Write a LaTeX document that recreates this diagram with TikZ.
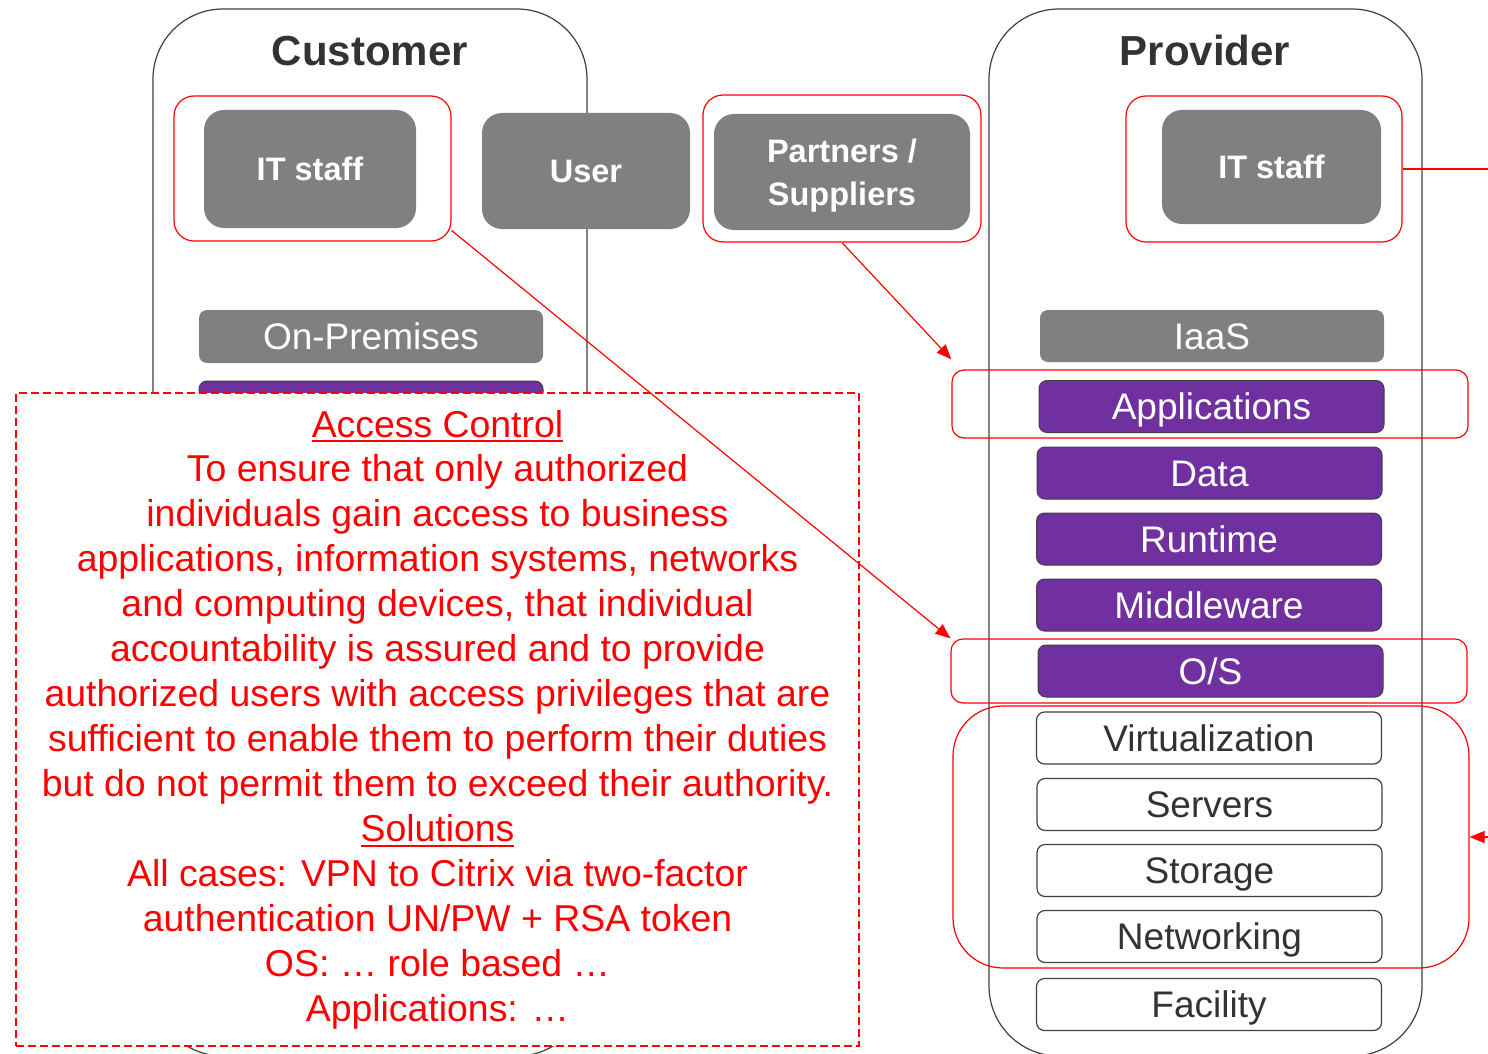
\documentclass[tikz,border=0pt]{standalone}
\usepackage{fontspec}
\setmainfont{Liberation Sans}
\usetikzlibrary{arrows.meta}

\definecolor{boxgray}{RGB}{128,128,128}
\definecolor{stackpurple}{RGB}{112,48,160}
\definecolor{inkgray}{RGB}{51,51,51}
\definecolor{edgegray}{RGB}{64,64,64}
\definecolor{alertred}{RGB}{255,0,0}

% underline with a thicker rule, set a little below the baseline
\newcommand\ulx[1]{\setbox0=\hbox{#1}\leavevmode\rlap{\rule[-5pt]{\wd0}{2pt}}\box0}

\begin{document}
\begin{tikzpicture}[x=1pt,y=-1pt,
  container/.style={draw=edgegray, line width=1.2pt, rounded corners=70pt,
    inner sep=0pt},
  title/.style={text=inkgray, inner sep=0pt,
    font=\fontsize{42}{50}\selectfont\bfseries},
  actor/.style={fill=boxgray, rounded corners=20pt, text=white, align=center,
    inner sep=0pt, font=\fontsize{32.5}{43.5}\selectfont\bfseries},
  actortext/.style={text=white, align=center, inner sep=0pt,
    font=\fontsize{32.5}{43.5}\selectfont\bfseries},
  band/.style={fill=boxgray, rounded corners=8pt, text=white, inner sep=0pt,
    minimum width=344pt, text height=31.5pt, text depth=5.5pt,
    font=\fontsize{37}{44}\selectfont},
  layer/.style={rounded corners=8pt, inner sep=0pt, minimum width=345pt,
    minimum height=52pt, text height=31.5pt, text depth=5.5pt,
    font=\fontsize{37}{44}\selectfont},
  hosted/.style={layer, fill=stackpurple, draw=edgegray, line width=1pt, text=white},
  infra/.style={layer, fill=white, draw=edgegray, line width=1.2pt, text=inkgray},
  highlight/.style={draw=alertred, line width=1.2pt, inner sep=0pt},
  link/.style={draw=alertred, line width=1.2pt,
    -{Triangle[length=15pt,width=12pt]}},
]
\useasboundingbox (0,0) rectangle (1488,1054);
\clip (0,0) rectangle (1488,1054);

% the two parties
\node[container, minimum width=434pt, minimum height=1047pt] (customer) at (370,532.5) {};
\node[container, minimum width=433pt, minimum height=1047pt] (provider) at (1205.5,532.5) {};
\node[title] (customerT) at (370,51) {Customer};
\node[title] (providerT) at (1205,50) {Provider};

% customer side
\node[actor, minimum width=212pt, minimum height=118pt, text height=23pt, text depth=0pt] (itC) at (310,169) {IT staff};
\node[actor, minimum width=208pt, minimum height=116pt, text height=23pt, text depth=0pt] (user) at (586,171) {User};
\node[actor, minimum width=256pt, minimum height=116pt] (partners) at (842,172) {};
\node[actortext] (partnersT) at (partners.center) [yshift=-3.5pt] {Partners /\\Suppliers};
\node[band, minimum height=53pt] (onprem) at (371,336.5) {On-Premises};
\node[hosted, minimum width=344pt] (cApps) at (371,407) {};

% provider side
\node[actor, minimum width=219pt, minimum height=114pt, text height=23pt, text depth=0pt] (itP) at (1271.5,167) {IT staff};
\node[band, minimum height=52pt] (iaas) at (1212,336) {IaaS};
\node[hosted] (apps) at (1211.5,406.5) {Applications};
\node[hosted] (data) at (1209.5,473) {Data};
\node[hosted] (runtime) at (1209,539) {Runtime};
\node[hosted] (middleware) at (1209,605) {Middleware};
\node[hosted] (os) at (1210.5,671) {O/S};
\node[infra] (virt) at (1209,738) {Virtualization};
\node[infra] (servers) at (1209.5,804.5) {Servers};
\node[infra] (storage) at (1209.5,870.5) {Storage};
\node[infra] (networking) at (1209.5,936.5) {Networking};
\node[infra] (facility) at (1209,1004.5) {Facility};

% red highlight frames
\node[highlight, rounded corners=20pt, minimum width=277pt, minimum height=145pt] (itCR) at (312.5,168.5) {};
\node[highlight, rounded corners=20pt, minimum width=278pt, minimum height=147pt] (partnersR) at (842,168.5) {};
\node[highlight, rounded corners=20pt, minimum width=276pt, minimum height=146pt] (itPR) at (1264,169) {};
\node[highlight, rounded corners=12pt, minimum width=516pt, minimum height=68pt] (appsR) at (1210,404) {};
\node[highlight, rounded corners=12pt, minimum width=516pt, minimum height=64pt] (osR) at (1209,671) {};
\node[highlight, rounded corners=50pt, minimum width=516pt, minimum height=262pt] (infraR) at (1211,837) {};

% access control note
\node[draw=alertred, dash pattern=on 8pt off 4pt, line width=1.8pt, fill=white,
  minimum width=843pt, minimum height=653pt, inner sep=0pt, text=alertred,
  align=center, font=\fontsize{37.4}{44.95}\selectfont] (note) at (437.5,719.5)
  {\ulx{Access Control}\\
   To ensure that only authorized\\
   individuals gain access to business\\
   applications, information systems, networks\\
   and computing devices, that individual\\
   accountability is assured and to provide\\
   authorized users with access privileges that are\\
   sufficient to enable them to perform their duties\\
   but do not permit them to exceed their authority.\\
   \ulx{Solutions}\\
   All cases: VPN to Citrix via two-factor\\
   authentication UN/PW + RSA token\\
   OS: … role based …\\
   Applications: …};

% connectors
\coordinate (offR) at (1530,169);
\draw[link] (partnersR.south) -- ([yshift=10pt]appsR.north west);
\draw[link] (itCR.-24) -- (osR.north west);
\draw[link] (itPR.east) -- (offR) |- (infraR.east);
\end{tikzpicture}
\end{document}
